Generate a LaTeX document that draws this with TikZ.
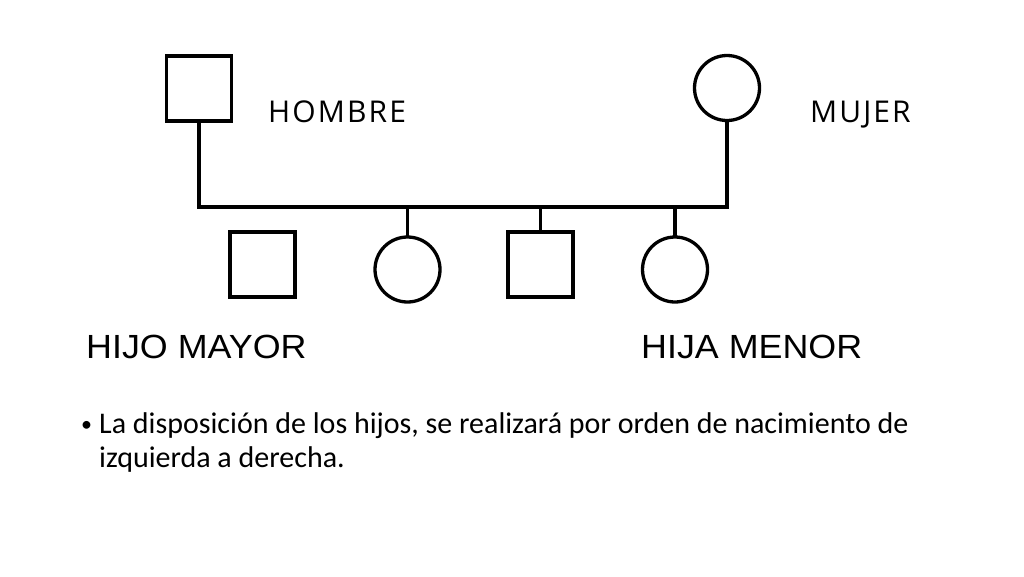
\documentclass[tikz,border=0pt]{standalone}
\usepackage{fontspec}
\setmainfont{Carlito}
\newfontfamily\labfont{Open Sans}[LetterSpace=7]
\newfontfamily\arialfont{Liberation Sans}[FakeStretch=1.07]
\begin{document}
\begin{tikzpicture}[x=1pt,y=-1pt,
  person/.style={draw=black,line width=3.3pt,inner sep=0pt,minimum size=65pt},
  male/.style={person,rectangle},
  female/.style={person,circle},
  link/.style={line width=3.3pt,line cap=rect},
  toplab/.style={anchor=base west,inner sep=0pt,font=\labfont\fontsize{30}{36}\selectfont},
  kidlab/.style={anchor=base west,inner sep=0pt,font=\arialfont\fontsize{33.5}{40}\selectfont},
  bodytext/.style={anchor=base west,inner sep=0pt,font=\fontsize{30}{36}\selectfont}]
\useasboundingbox[fill=white] (0,0) rectangle (1024,576);
\node[male] (dad) at (199,88.5) {};
\node[female] (mom) at (727,88) {};
\coordinate (bl) at (199,207);
\coordinate (br) at (727,207);
\draw[link] (dad) -- (bl) -- (br) -- (mom);
\node[male] (k1) at (262.5,264.5) {};
\node[female] (k2) at (407.5,269.5) {};
\node[male] (k3) at (540.5,264.5) {};
\node[female] (k4) at (675,269.5) {};
\draw[link] (k2) -- (k2 |- bl);
\draw[link] (k3) -- (k3 |- bl);
\draw[link] (k4) -- (k4 |- bl);
\node[toplab] (hombre) at (268,122) {HOMBRE};
\node[toplab] (mujer) at (810,122) {MUJER};
\node[kidlab] (mayor) at (86,358) {HIJO MAYOR};
\node[kidlab] (menor) at (641,358) {HIJA MENOR};
\node[anchor=base west,inner sep=0pt,font=\fontsize{22}{26}\selectfont] (bul) at (81,431) {•};
\node[bodytext] (l1) at (99,433) {La disposición de los hijos, se realizará por orden de nacimiento de};
\node[bodytext] (l2) at (99,467) {izquierda a derecha.};
\end{tikzpicture}
\end{document}
